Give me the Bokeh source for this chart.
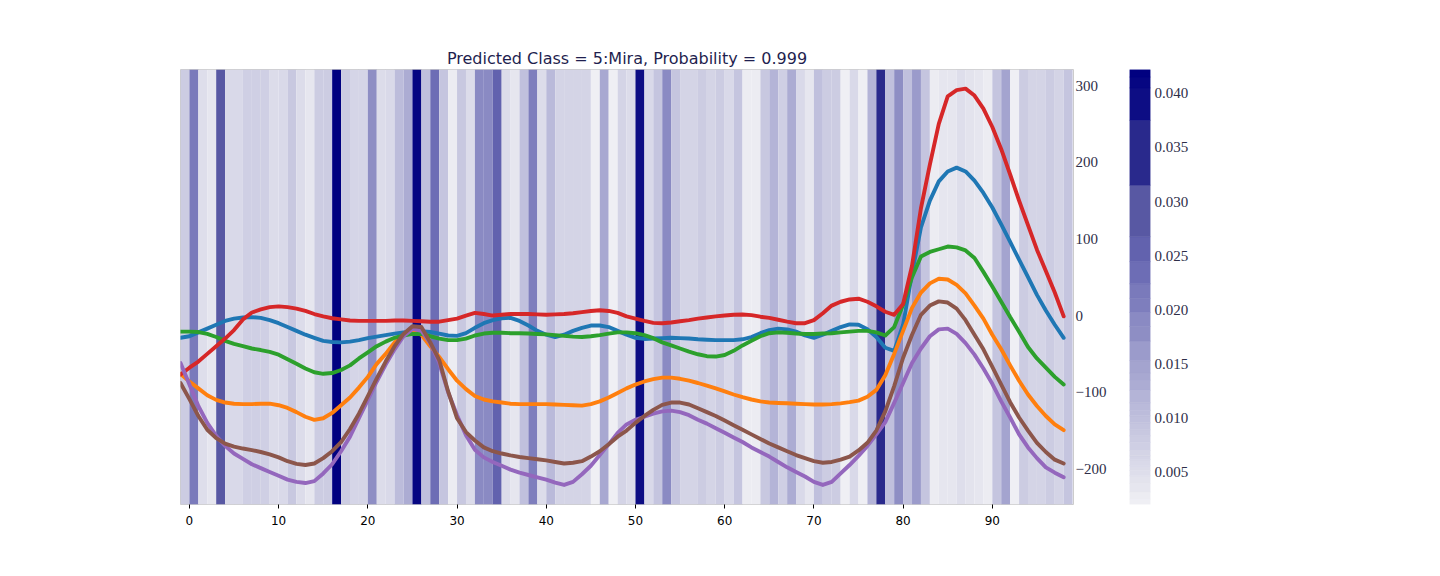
import numpy as np
from bokeh.plotting import figure
from bokeh.layouts import row
from bokeh.models import (ColumnDataSource, LinearColorMapper, FixedTicker, Range1d)
from bokeh.transform import transform
from bokeh.embed import file_html
from bokeh.resources import INLINE

# ---------------- data ----------------
x_pos = list(range(-1, 99))

importance = [
    0.0081, 0.0214, 0.0050, 0.0036, 0.0280, 0.0059, 0.0059, 0.0074, 0.0074, 0.0074,
    0.0053, 0.0059, 0.0086, 0.0053, 0.0036, 0.0081, 0.0081, 0.0420, 0.0081, 0.0064,
    0.0064, 0.0181, 0.0053, 0.0059, 0.0105, 0.0132, 0.0410, 0.0099, 0.0234, 0.0092,
    0.0027, 0.0086, 0.0053, 0.0188, 0.0188, 0.0255, 0.0053, 0.0036, 0.0099, 0.0207,
    0.0053, 0.0109, 0.0066, 0.0066, 0.0066, 0.0066, 0.0023, 0.0138, 0.0023, 0.0066,
    0.0053, 0.0400, 0.0059, 0.0092, 0.0188, 0.0092, 0.0066, 0.0066, 0.0081, 0.0066,
    0.0081, 0.0059, 0.0092, 0.0027, 0.0027, 0.0086, 0.0119, 0.0074, 0.0132, 0.0059,
    0.0036, 0.0099, 0.0081, 0.0081, 0.0023, 0.0059, 0.0023, 0.0119, 0.0350, 0.0099,
    0.0181, 0.0099, 0.0161, 0.0092, 0.0027, 0.0036, 0.0036, 0.0050, 0.0043, 0.0036,
    0.0027, 0.0092, 0.0145, 0.0023, 0.0081, 0.0066, 0.0066, 0.0081, 0.0066, 0.0092,
]

blue = [
    -29, -27, -22, -17, -12, -7, -4, -2.5, -2, -3,
    -6, -10, -15, -20, -25, -29, -33, -34.5, -35, -34,
    -32, -29.5, -27.5, -25.5, -23.5, -22, -21, -20.5, -21.5, -23.5,
    -26, -26.5, -23, -16, -10, -6, -3.5, -3, -7, -13,
    -20, -25, -28, -25, -20, -16, -13, -13, -15, -20,
    -25, -29, -30.5, -30, -29.5, -29, -29.5, -30, -31, -31.5,
    -32, -32, -32, -31, -28, -23, -19, -17, -18, -21,
    -26, -29, -25, -20, -15, -11.5, -12, -18, -28, -42,
    -46, -12, 55, 115, 150, 175, 188, 193, 188, 176,
    160, 141, 119, 96, 73, 50, 27, 6.5, -12, -29,
]
orange = [
    -76, -86, -95, -104, -110, -113.5, -115, -115.5, -115.5, -115,
    -115, -117, -120.5, -126, -132, -136, -134, -127, -117, -107,
    -94, -80, -63, -50, -35, -26, -21, -25, -40, -54,
    -70, -85, -96, -105, -109.5, -112, -113.5, -115, -115.5, -115.5,
    -115.5, -115.5, -116, -116.5, -117, -117.5, -115.5, -112, -107, -101,
    -95, -90, -86, -83, -81, -81, -82.5, -85, -88, -91.5,
    -95, -99, -103, -106.5, -109.5, -112, -113.5, -114, -114.5, -115,
    -115.5, -116, -116, -115.5, -114.5, -113, -111, -106, -97, -78,
    -50, -20, 10, 30, 42, 48, 47, 40, 29, 13,
    -4, -25, -44, -65, -85, -103, -118, -131, -142, -149.5,
]
green = [
    -21, -21, -21.5, -24, -28, -33, -37, -40, -43, -45,
    -47.5, -51, -57, -63, -69, -74, -76, -75, -71, -65,
    -56, -48, -40, -34, -29, -26, -24, -24, -27, -30,
    -32, -32, -30, -26, -23.5, -22.5, -22.5, -23, -23, -23.5,
    -24, -24.5, -25.5, -26.5, -27.5, -28, -27, -25.5, -23.5, -22,
    -22, -23, -25.5, -29.5, -35, -39, -43, -47, -50.5, -53,
    -53.5, -51.5, -46, -39, -33, -27, -23, -22, -22.5, -23.5,
    -24, -24, -23.5, -23, -22, -21, -20, -20, -22, -26,
    -15, 14, 50, 77, 83, 86.5, 90, 89, 85, 75,
    57, 38, 18, -2, -21, -41, -56, -68, -80, -90,
]
red = [
    -77, -68, -60, -50, -40, -30, -19, -5, 4, 8,
    11, 12, 11, 9, 6, 2, -1, -3.5, -5, -6.5,
    -7, -7, -7, -7, -6.5, -6.5, -7, -7.5, -8, -8,
    -6, -4, 0, 3.5, 2, 0, 1, 2, 2, 2,
    1.5, 1, 1.5, 2, 3, 4.5, 6, 7, 6, 3.5,
    -1, -4, -7, -9.5, -10, -9, -7.5, -6, -4, -2.5,
    -1, 0, 1, 1.3, 0.5, -1.5, -3, -5.5, -8, -10,
    -10, -6, 3, 13, 18, 21, 22, 18, 12, 5,
    1, 15, 65, 140, 197, 250, 286, 294, 296, 287,
    270, 246, 217, 184, 150, 118, 86, 58, 30, -1,
]
purple = [
    -62, -90, -118, -140, -157, -170, -180, -187, -194, -199,
    -204, -209, -214, -217, -218.5, -216, -206, -194, -177, -158,
    -134, -110, -86, -64, -44, -27, -17.5, -20, -36, -62,
    -100, -130, -156, -175, -185, -191, -196, -201, -205, -208,
    -211, -214, -218, -221, -217, -207, -196, -182, -168, -153,
    -142, -136, -132, -128, -125, -124, -126, -130, -136, -141,
    -147, -153, -159, -165, -172, -178, -184, -191, -198, -204,
    -210, -217, -221, -217, -206, -195, -183, -170, -155, -139,
    -114, -88, -62, -43, -27, -18, -17, -24, -36, -51,
    -69, -89, -112, -133, -155, -172, -186, -198, -205, -211,
]
brown = [
    -88, -109, -131, -149, -160, -167, -171, -173.5, -175.5, -178,
    -181, -185, -190, -193.5, -195, -193, -186, -177, -165, -148,
    -128, -105, -82, -60, -40, -24, -14, -15, -35, -58,
    -99, -134, -152, -163, -172, -177, -180, -182.5, -184.5, -186,
    -187.5, -189, -191, -193, -192, -190, -184, -177, -168, -158,
    -150, -140, -131, -123, -116.5, -113.5, -113.5, -116, -121, -126,
    -131, -137, -143, -149, -155, -161, -167, -172, -177, -182,
    -186, -190, -192, -191, -188, -184, -176, -166, -150, -125,
    -92, -55, -25, 1, 13, 18.5, 17, 9, -6, -25,
    -44, -67, -90, -113, -133, -150, -166, -178, -188, -193,
]

series = [blue, orange, green, red, purple, brown]
series_colors = ["#1f77b4", "#ff7f0e", "#2ca02c", "#d62728", "#9467bd", "#8c564b"]

title_text = "Predicted Class = 5:Mira, Probability = 0.999"
x_ticks = [0, 10, 20, 30, 40, 50, 60, 70, 80, 90]
y_ticks = [-200, -100, 0, 100, 200, 300]
cb_ticks = [0.005, 0.010, 0.015, 0.020, 0.025, 0.030, 0.035, 0.040]

# ---------------- colour map ----------------
VMIN, VMAX = 0.0020, 0.0422
stops = [(0.0020, (240, 240, 244)), (0.0250, (100, 100, 176)),
         (0.0300, (80, 80, 154)), (0.0350, (42, 42, 140)), (0.0422, (0, 0, 128))]


def make_palette(n=256):
    pal = []
    for i in range(n):
        v = VMIN + (VMAX - VMIN) * i / (n - 1)
        for (a, ca), (b, cb) in zip(stops[:-1], stops[1:]):
            if a <= v <= b:
                t = (v - a) / (b - a)
                c = [int(round(ca[k] + (cb[k] - ca[k]) * t)) for k in range(3)]
                pal.append("#%02x%02x%02x" % tuple(c))
                break
    return pal


mapper = LinearColorMapper(palette=make_palette(), low=VMIN, high=VMAX)

YMIN, YMAX = -246.5, 321.0
XMIN, XMAX = -1.0, 99.1

# ---------------- main figure ----------------
p = figure(frame_width=893, frame_height=435,
           x_range=Range1d(XMIN, XMAX), y_range=Range1d(YMIN, YMAX),
           output_backend="svg", toolbar_location=None,
           y_axis_location="right",
           min_border_left=180, min_border_top=69, min_border_bottom=40,
           min_border_right=47)
p.title.text = title_text
p.title.align = "center"
p.title.text_font = "DejaVu Sans"
p.title.text_font_size = "16px"
p.title.text_font_style = "normal"
p.title.text_color = "#1f1f4f"
p.title.standoff = 4
p.grid.visible = False
p.outline_line_color = "#cccccc"
p.background_fill_color = "white"

heat_src = ColumnDataSource(dict(
    left=np.array(x_pos, dtype=float),
    right=np.array(x_pos, dtype=float) + 1.0,
    v=importance,
))
p.quad(left="left", right="right", bottom=YMIN, top=YMAX, source=heat_src,
       fill_color=transform("v", mapper), line_color=None)

for ys, col in zip(series, series_colors):
    p.line(x_pos, ys, line_color=col, line_width=3.9,
           line_cap="round", line_join="round")

xa = p.xaxis[0]
xa.ticker = FixedTicker(ticks=x_ticks)
xa.axis_line_color = None
xa.major_tick_in = 0
xa.major_tick_out = 4
xa.major_tick_line_color = "black"
xa.minor_tick_line_color = None
xa.major_label_text_font = "DejaVu Sans"
xa.major_label_text_font_size = "12px"
xa.major_label_text_color = "black"
xa.major_label_standoff = 7

ya = p.yaxis[0]
ya.ticker = FixedTicker(ticks=y_ticks)
ya.major_label_overrides = {t: (("\u2212" + str(-t)) if t < 0 else str(t)) for t in y_ticks}
ya.axis_line_color = None
ya.major_tick_in = 0
ya.major_tick_out = 0
ya.minor_tick_line_color = None
ya.major_label_standoff = 2
ya.major_label_text_font = "Liberation Serif"
ya.major_label_text_font_size = "15px"
ya.major_label_text_color = "#2e2e48"

# ---------------- colour bar (stepped) ----------------
uniq = sorted(set(importance))
bounds = [VMIN] + [(a + b) / 2.0 for a, b in zip(uniq[:-1], uniq[1:])] + [VMAX]
cb_src = ColumnDataSource(dict(bottom=bounds[:-1], top=bounds[1:], v=uniq))

cb = figure(frame_width=21, frame_height=435,
            x_range=Range1d(0, 1), y_range=Range1d(VMIN, VMAX),
            output_backend="svg", toolbar_location=None,
            x_axis_location=None, y_axis_location="right",
            min_border_left=9, min_border_top=69, min_border_bottom=40,
            min_border_right=60)
cb.grid.visible = False
cb.outline_line_color = None
cb.quad(left=0, right=1, bottom="bottom", top="top", source=cb_src,
        fill_color=transform("v", mapper), line_color=transform("v", mapper),
        line_width=0.5)
ca = cb.yaxis[0]
ca.ticker = FixedTicker(ticks=cb_ticks)
ca.major_label_overrides = {t: "%.3f" % t for t in cb_ticks}
ca.axis_line_color = None
ca.major_tick_in = 0
ca.major_tick_out = 0
ca.minor_tick_line_color = None
ca.major_label_standoff = 4
ca.major_label_text_font = "Liberation Serif"
ca.major_label_text_font_size = "15px"
ca.major_label_text_color = "#2e2e48"

layout = row(p, cb)

with open("out.html", "w") as f:
    f.write(file_html(layout, INLINE))
